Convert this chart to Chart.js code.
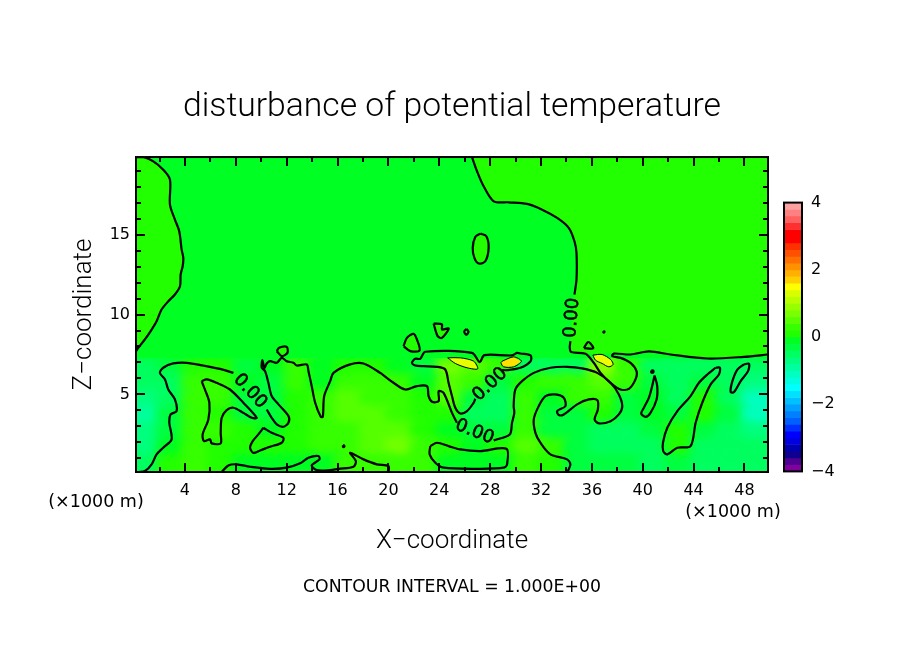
<!DOCTYPE html>
<html>
<head>
<meta charset="utf-8">
<title>disturbance of potential temperature</title>
<script src="https://cdn.jsdelivr.net/npm/chart.js@4"></script>
<style>
  html, body { margin: 0; padding: 0; background: #fff; }
  #wrap { position: relative; width: 904px; height: 654px; }
  #field { position: absolute; left: 0; top: 0; }
  #bar { position: absolute; left: 770px; top: 184px; }
</style>
</head>
<body>
<div id="wrap">
  <canvas id="field" width="904" height="654"></canvas>
  <canvas id="bar" width="70" height="306"></canvas>
</div>
<script>
// axes
const xRange = [0.15, 49.85];
const zRange = [0.15, 19.85];
const xMajor = [4, 8, 12, 16, 20, 24, 28, 32, 36, 40, 44, 48];
const xMinor = [2, 6, 10, 14, 18, 22, 26, 30, 34, 38, 42, 46];
const zMajor = [5, 10, 15];
const zMinor = [1, 2, 3, 4, 6, 7, 8, 9, 11, 12, 13, 14, 16, 17, 18, 19];
const barTicks = [-4, -2, 0, 2, 4];

// 40 colour levels of 0.2 from the colour bar, top (3.8..4) to bottom (-4..-3.8)
const levelColors = [
  '#ffa0a0', '#ff8080', '#ff6060', '#ff3030', '#ff0000', '#ff0000', '#ff3000', '#ff5000', '#ff7000', '#ff9000',
  '#ffb000', '#ffd000', '#ffff00', '#d8ff00', '#b8ff00', '#98ff00', '#78ff00', '#58ff00', '#38ff00', '#22ff00',
  '#00ff22', '#00ff40', '#00ff60', '#00ff80', '#00ffa0', '#00ffc0', '#00ffe0', '#00ffff', '#00e0ff', '#00c0ff',
  '#00a0ff', '#0080ff', '#0060ff', '#0030ff', '#0000ff', '#0000e0', '#0000b0', '#100090', '#500090', '#8000a0'
];

// field below the inversion
const fieldX = [1, 3, 5, 7, 9, 11, 13, 15, 17, 19, 21, 23, 25, 27, 29, 31, 33, 35, 37, 39, 41, 43, 45, 47, 49];
const fieldZ = [6.5, 5.5, 4.5, 3.5, 2.5, 1.5, 0.5];
const row65 = [-0.4, -0.3, 0.1, 0.1, -0.2, -0.1, 0.2, -0.1, 0.1, 0.1, -0.1, -0.2, 0.7, 0.6, 0.3, -0.4, -0.5, -0.4, 0.9, 0.2, -0.5, -0.6, -0.5, -0.5, -0.5];
const row55 = [-0.6, -0.4, 0.2, 0.3, -0.1, -0.2, 0.2, -0.1, 0.3, 0.4, 0.3, -0.1, 0.6, 0.2, -0.3, 0.1, 0.3, 0.3, 0.6, 0.2, -0.2, -0.5, -0.2, -0.4, -0.8];
const row45 = [-0.8, -0.5, 0.3, 0.2, -0.2, -0.3, 0.1, 0.2, 0.5, 0.4, 0.3, 0.1, 0.5, -0.2, -0.4, 0.2, -0.1, 0.3, 0.4, -0.3, 0, -0.4, 0.1, -0.4, -1.0];
const row35 = [-0.9, -0.3, 0.4, 0.1, -0.2, -0.2, 0.1, 0.2, 0.5, 0.6, 0.4, 0.1, 0.1, -0.4, -0.4, 0.3, -0.2, -0.2, 0.1, -0.3, 0, -0.3, 0.1, -0.3, -1.0];
const row25 = [-0.8, -0.2, 0.4, 0.2, 0.1, -0.1, 0.1, 0.3, 0.4, 0.6, 0.6, 0.1, -0.1, -0.2, -0.3, 0.4, -0.3, -0.3, -0.4, -0.4, -0.3, 0.1, -0.3, -0.5, -0.7];
const row15 = [-0.7, -0.1, 0.4, 0.1, 0.1, 0.1, 0.1, 0.2, 0.3, 0.5, 0.7, 0.3, 0.1, 0, 0.1, 0.5, 0.3, -0.2, -0.4, -0.4, -0.4, 0.1, -0.5, -0.6, -0.6];
const row05 = [-0.5, 0.1, 0.4, 0.1, 0, 0, 0, 0, 0.2, 0.3, 0.4, 0.2, 0, -0.1, 0, 0.4, 0.1, -0.2, -0.3, -0.3, -0.4, -0.3, -0.4, -0.5, -0.5];
const fieldRows = [row65, row55, row45, row35, row25, row15, row05];

// zero contours [x, z] in km
const leftTop = [[0.15, 19.85], [0.72, 19.85], [1.51, 19.58], [2.29, 19.06], [2.82, 18.44], [2.82, 16.88], [3.21, 15.94], [3.55, 15.21], [3.74, 14.06], [3.87, 13.54], [3.82, 13.02], [3.66, 12.5], [3.61, 11.77], [3.21, 11.25], [2.69, 10.83], [2.16, 10.31], [1.77, 9.58], [1.38, 9.06], [0.85, 8.44], [0.33, 7.92], [0.15, 7.71]];
const rightTop = [[26.57, 19.85], [26.97, 18.96], [27.49, 18.02], [28.28, 17.08], [29.46, 17.02], [30.9, 16.92], [32.09, 16.56], [33.27, 16.04], [34.18, 15.42], [34.63, 14.58], [34.79, 13.85], [34.79, 12.19], [34.63, 11.25]];
const plumeRight = [[34.31, 8.33], [34.26, 7.92], [34.37, 7.65], [35.5, 7.54], [36.15, 6.98], [36.68, 6.35], [37.46, 5.73], [38.25, 5.31], [38.91, 5.35], [39.43, 5.94], [39.51, 6.46], [39.04, 6.98], [38.25, 7.29], [37.6, 7.4], [37.73, 7.56], [39.04, 7.5], [40.48, 7.69], [42.19, 7.5], [45.07, 7.25], [47.96, 7.35], [49.85, 7.5]];
const plumeRightUpper = [[34.31, 8.33], [34.26, 7.92], [34.37, 7.65], [35.5, 7.54], [37.73, 7.56], [39.04, 7.5], [40.48, 7.69], [42.19, 7.5], [45.07, 7.25], [47.96, 7.35], [49.85, 7.5]];
const upperOval = [[27.23, 15.06], [27.7, 14.9], [27.88, 14.17], [27.62, 13.33], [27.1, 13.19], [26.76, 13.54], [26.63, 14.17], [26.83, 14.85], [27.23, 15.06]];
const blobA = [[21.19, 8.02], [21.45, 8.54], [21.98, 8.79], [22.24, 8.44], [22.45, 7.75], [21.72, 7.71], [21.19, 8.02]];
const blobB = [[23.55, 9.44], [24.21, 9.38], [24.21, 9.06], [24.74, 9.13], [24.21, 8.54], [23.87, 8.65], [23.55, 9.44]];
const blobC = [[11.22, 7.71], [11.4, 7.92], [12.0, 7.98], [12.06, 7.6], [11.61, 7.4], [11.22, 7.71]];
const triangle = [[35.37, 7.9], [35.68, 8.27], [35.89, 8.19], [36.1, 7.88], [35.37, 7.9]];
const leftLobe = [[7.81, 6.35], [6.76, 6.6], [5.44, 6.81], [4.13, 6.98], [3.08, 6.94], [2.29, 6.67], [2.03, 6.35], [2.43, 5.94], [2.69, 5.31], [3.21, 4.69], [3.34, 3.96], [2.87, 3.75], [2.77, 3.23], [2.95, 2.19], [2.29, 1.67], [1.77, 1.25], [1.38, 0.63], [0.85, 0.21], [0.33, 0.15]];
const hollow = [[5.31, 5.83], [5.71, 5.94], [6.49, 5.73], [7.54, 5.31], [8.59, 4.48], [9.64, 3.54], [9.25, 3.54], [8.59, 3.85], [7.81, 4.17], [7.28, 4.02], [6.89, 3.54], [6.81, 2.6], [6.81, 1.94], [6.1, 1.94], [5.97, 2.19], [5.5, 2.08], [5.39, 2.5], [5.84, 3.44], [5.92, 4.48], [5.57, 5.31], [5.31, 5.83]];
const wedge = [[10.17, 2.92], [10.82, 2.6], [11.74, 2.29], [11.61, 1.98], [10.69, 1.73], [9.91, 1.5], [9.38, 1.35], [9.12, 1.67], [9.33, 2.08], [9.77, 2.5], [10.17, 2.92]];
const bigLobe = [[10.43, 4.06], [10.82, 3.54], [11.22, 3.13], [11.74, 2.98], [12.14, 3.23], [12.14, 3.65], [11.35, 4.38], [10.82, 4.9], [10.56, 5.73], [10.3, 6.46], [10.04, 6.67], [10.09, 7.15], [10.25, 6.67], [10.43, 6.94], [10.69, 7.08], [11.22, 6.98], [11.61, 7.29], [12.0, 7.08], [12.53, 6.98], [12.79, 6.81], [13.58, 6.88], [13.71, 6.46], [13.97, 5.52], [14.24, 4.48], [14.68, 3.6], [14.84, 3.6], [14.95, 4.9], [15.42, 5.83], [15.68, 6.35], [16.99, 6.88], [18.04, 6.94], [19.35, 6.35], [20.4, 5.73], [21.32, 5.31], [22.24, 5.52], [23.03, 5.52], [23.16, 4.9], [23.43, 4.54], [23.95, 4.58], [23.95, 5.21], [24.34, 5.1], [25.0, 3.85], [25.39, 3.23]];
const plumeLeft = [[28.93, 6.52], [29.33, 6.52], [30.38, 6.67], [31.18, 7.08], [31.18, 7.44], [30.38, 7.56], [30.11, 7.6], [29.72, 7.44], [27.54, 7.46], [27.18, 7.02], [26.57, 7.6], [22.9, 7.67], [22.5, 7.23], [22.11, 7.23], [21.85, 6.98], [22.11, 6.81], [22.77, 6.77], [23.81, 6.73], [24.47, 6.56], [24.73, 5.73], [25.0, 4.9], [25.26, 4.17], [25.65, 3.81], [26.18, 3.96], [26.7, 4.48], [26.83, 4.73]];
const bottomEdge = [[6.89, 0.15], [7.41, 0.56], [8.07, 0.63], [9.12, 0.48], [10.69, 0.35], [12.0, 0.42], [13.06, 0.69], [13.71, 1.04], [14.5, 1.15], [14.58, 0.94], [13.97, 0.56], [14.37, 0.27], [15.42, 0.27], [16.07, 0.35], [17.25, 0.48], [17.44, 0.83], [16.99, 1.35], [18.04, 0.94], [19.09, 0.63], [20.01, 0.52], [20.01, 0.17]];
const bottomLoop = [[23.29, 1.77], [23.82, 1.98], [24.73, 1.77], [25.65, 1.56], [27.23, 1.46], [29.28, 1.6], [29.33, 0.63], [29.07, 0.42], [27.23, 0.35], [24.34, 0.42], [23.69, 0.73], [23.24, 1.25], [23.29, 1.77]];
const swirl = [[34.11, 0.21], [34.31, 0.63], [34.05, 0.94], [32.74, 1.25], [31.95, 1.98], [31.56, 2.6], [31.43, 3.44], [31.82, 4.27], [32.35, 4.9], [33.13, 5.0], [33.79, 4.79], [33.92, 4.27], [33.27, 3.96], [33.4, 3.71], [33.79, 3.75], [34.84, 4.38], [35.76, 4.69], [36.42, 4.65], [36.47, 4.06], [36.21, 3.44], [36.55, 3.19], [37.47, 3.33], [38.12, 3.75], [38.39, 4.27], [38.12, 5.0], [37.47, 5.73], [36.42, 6.35], [35.23, 6.63], [34.05, 6.73], [32.74, 6.67], [31.43, 6.35], [30.51, 5.83], [29.98, 5.31], [29.85, 4.27], [29.9, 3.85], [29.72, 3.23], [29.54, 2.5], [28.28, 2.13]];
const lensA = [[40.93, 6.19], [41.14, 5.52], [41.09, 4.69], [40.61, 3.85], [40.22, 3.6], [39.88, 3.81], [40.09, 4.17], [40.48, 4.79], [40.74, 5.52], [40.93, 6.19]];
const lensB = [[45.73, 6.67], [46.07, 6.67], [45.99, 6.25], [45.34, 5.63], [44.68, 4.48], [44.16, 3.23], [43.76, 1.77], [42.72, 1.67], [41.93, 1.25], [41.61, 1.46], [41.59, 1.98], [41.93, 2.92], [42.72, 3.96], [43.76, 4.9], [44.42, 5.73], [45.08, 6.25], [45.73, 6.67]];
const lensC = [[47.96, 6.88], [48.36, 6.92], [48.28, 6.46], [47.7, 5.83], [47.18, 5.15], [46.91, 5.15], [47.05, 5.83], [47.44, 6.56], [47.96, 6.88]];
const dotA = [[40.67, 6.5], [40.83, 6.5], [40.83, 6.38], [40.67, 6.38], [40.67, 6.5]];
const dotB = [[36.9, 8.95], [36.98, 8.95], [36.98, 8.89], [36.9, 8.89], [36.9, 8.95]];
const dotC = [[26.13, 9.1], [26.3, 8.92], [26.13, 8.74], [25.96, 8.92], [26.13, 9.1]];
const dotD = [[16.43, 1.82], [16.52, 1.82], [16.52, 1.72], [16.43, 1.72], [16.43, 1.82]];

// level 1 contours
const warmA = [[24.66, 7.29], [25.65, 7.29], [26.71, 7.08], [27.02, 6.6], [26.18, 6.67], [25.26, 6.94], [24.66, 7.29]];
const warmB = [[28.94, 7.08], [29.85, 7.35], [30.46, 7.08], [29.85, 6.73], [29.06, 6.73], [28.85, 6.98], [28.94, 7.08]];
const warmC = [[36.08, 7.46], [36.8, 7.5], [37.47, 7.19], [37.67, 6.88], [37.33, 6.73], [36.8, 6.94], [36.28, 7.15], [36.08, 7.46]];

// "0.00" contour labels: x, z, rotation in degrees
const labelX = [9.12, 28.0, 26.78, 34.45];
const labelZ = [5.2, 5.63, 2.65, 9.79];
const labelAngle = [47, -43, 22, -85];

const domainBox = [[xRange[0], zRange[1]], [xRange[1], zRange[1]], [xRange[1], zRange[0]], [xRange[0], zRange[0]]];
const rightCorners = [[49.85, 19.85]];
const leftCorner = [[0.15, 7.71], [0.15, 19.85]];

const FONT = '"DejaVu Sans"';
const THIN = 'Roboto';

function colorFor(v) {
    let i = Math.floor((4 - v) / 0.2);
    return levelColors[Math.max(0, Math.min(39, i))];
}
function toPts(list) { return list.map(p => ({ x: p[0], y: p[1] })); }

function contour(list, width) {
    return { data: toPts(list), showLine: true, fill: false, borderColor: '#000', borderWidth: width || 2.2,
        borderJoinStyle: 'round', pointRadius: 0, tension: 0.3, order: 1 };
}
function patch(list, color, order) {
    return { data: toPts(list), showLine: true, fill: 'shape', backgroundColor: color, borderWidth: 0,
        borderColor: 'transparent', pointRadius: 0, tension: 0, order: order };
}

// heat cells
const cellPts = [];
fieldRows.forEach((row, r) => row.forEach((v, c) => cellPts.push({ x: fieldX[c], y: fieldZ[r], v: v })));
const cellCache = {};
function cellStyle(ctx) {
    const pt = ctx.raw;
    if (!pt) return 'rect';
    const col = colorFor(pt.v);
    if (!cellCache[col]) {
        const c = document.createElement('canvas');
        c.width = 33;
        c.height = 24;
        const g = c.getContext('2d');
        g.fillStyle = col;
        g.fillRect(0, 0, c.width, c.height);
        cellCache[col] = c;
    }
    return cellCache[col];
}

const heatSet = { label: 'heat', data: cellPts, pointStyle: cellStyle, pointRadius: 8, showLine: false,
    clip: { left: 0, right: 0, bottom: 0, top: -201 }, order: 90 };

const fieldSets = [
    patch(domainBox.concat([domainBox[0]]), levelColors[20], 100),
    heatSet,
    patch(leftTop.concat(leftCorner), levelColors[19], 80),
    patch(rightTop.concat(plumeRightUpper, rightCorners), levelColors[19], 80),
    patch(upperOval, levelColors[19], 80),
    patch(blobA, levelColors[19], 80),
    patch(blobB, levelColors[19], 80),
    patch(blobC, levelColors[19], 80),
    patch(warmA, '#e8ff00', 70),
    patch(warmB, '#ffe000', 70),
    patch(warmC, '#eeff00', 70)
];
[leftTop, rightTop, plumeRight, upperOval, blobA, blobB, blobC, triangle, leftLobe, hollow, wedge, bigLobe, plumeLeft,
 bottomEdge, bottomLoop, swirl, lensA, lensB, lensC, dotA, dotB, dotC, dotD].forEach(c => fieldSets.push(contour(c)));
[warmA, warmB, warmC].forEach(c => fieldSets.push(contour(c, 1)));

const frame = {
    id: 'frame',
    afterDatasetsDraw(chart) {
        const { ctx, chartArea: a } = chart;
        ctx.save();
        ctx.strokeStyle = '#000';
        ctx.lineWidth = 2;
        ctx.strokeRect(a.left, a.top, a.right - a.left, a.bottom - a.top);
        ctx.restore();
    }
};

const insideTicks = {
    id: 'insideTicks',
    afterDatasetsDraw(chart) {
        const { ctx, chartArea: a, scales } = chart;
        ctx.save();
        ctx.strokeStyle = '#000';
        ctx.lineWidth = 2;
        const vert = (vals, len) => vals.forEach(v => {
            const px = Math.round(scales.x.getPixelForValue(v));
            ctx.beginPath();
            ctx.moveTo(px, a.top); ctx.lineTo(px, a.top + len);
            ctx.moveTo(px, a.bottom); ctx.lineTo(px, a.bottom - len);
            ctx.stroke();
        });
        const horiz = (vals, len) => vals.forEach(v => {
            const py = Math.round(scales.y.getPixelForValue(v));
            ctx.beginPath();
            ctx.moveTo(a.left, py); ctx.lineTo(a.left + len, py);
            ctx.moveTo(a.right, py); ctx.lineTo(a.right - len, py);
            ctx.stroke();
        });
        vert(xMajor, 9); vert(xMinor, 5);
        horiz(zMajor, 9); horiz(zMinor, 5);
        ctx.restore();
    }
};

const texts = {
    id: 'texts',
    afterDraw(chart) {
        const { ctx, scales } = chart;
        ctx.save();
        ctx.fillStyle = '#000';
        ctx.strokeStyle = '#000';
        ctx.textAlign = 'center';
        ctx.textBaseline = 'middle';
        // contour labels
        ctx.font = '18px ' + FONT;
        ctx.lineWidth = 0.6;
        labelX.forEach((x, i) => {
            ctx.save();
            ctx.translate(scales.x.getPixelForValue(x), scales.y.getPixelForValue(labelZ[i]));
            ctx.rotate(labelAngle[i] * Math.PI / 180);
            ctx.fillText('0.00', 0, 0);
            ctx.strokeText('0.00', 0, 0);
            ctx.restore();
        });
        ctx.font = '17.5px ' + FONT;
        ctx.fillText('(\u00d71000 m)', 96, 502);
        ctx.fillText('(\u00d71000 m)', 733, 512);
        ctx.font = '17.3px ' + FONT;
        ctx.fillText('CONTOUR INTERVAL = 1.000E+00', 452, 588);
        ctx.restore();
    }
};

const softCells = {
    id: 'softCells',
    beforeDatasetDraw(chart, args) {
        if (chart.data.datasets[args.index].label === 'heat') chart.ctx.filter = 'blur(5px)';
    },
    afterDatasetDraw(chart, args) {
        if (chart.data.datasets[args.index].label === 'heat') chart.ctx.filter = 'none';
    }
};

new Chart(document.getElementById('field'), {
    type: 'scatter',
    data: { datasets: fieldSets },
    plugins: [softCells, frame, insideTicks, texts],
    options: {
        responsive: false,
        animation: false,
        events: [],
        layout: { padding: { left: 0, right: 0, top: 0, bottom: 100 } },
        plugins: {
            legend: { display: false },
            tooltip: { enabled: false },
            title: {
                display: true,
                text: 'disturbance of potential temperature',
                color: '#000',
                font: { family: THIN, size: 33.7, weight: 300, lineHeight: 1.2 },
                padding: { top: 87, bottom: 29.6 }
            }
        },
        scales: {
            x: {
                type: 'linear',
                min: xRange[0], max: xRange[1],
                afterBuildTicks: s => { s.ticks = xMajor.map(v => ({ value: v })); },
                afterFit: s => { s.height = 82; },
                grid: { display: false, drawTicks: false },
                border: { display: false },
                ticks: { autoSkip: false, maxRotation: 0, padding: 9, color: '#000', font: { family: FONT, size: 16 }, callback: v => String(v) },
                title: { display: true, text: 'X\u2212coordinate', color: '#000', padding: 0, font: { family: THIN, size: 26, weight: 300, lineHeight: 1 } }
            },
            y: {
                type: 'linear',
                min: zRange[0], max: zRange[1],
                afterBuildTicks: s => { s.ticks = zMajor.map(v => ({ value: v })); },
                afterFit: s => { s.width = 136; },
                grid: { display: false, drawTicks: false },
                border: { display: false },
                ticks: { autoSkip: false, padding: 6, color: '#000', font: { family: FONT, size: 16 }, callback: v => String(v) },
                title: { display: true, text: 'Z\u2212coordinate', color: '#000', padding: { top: 71, bottom: 0 }, font: { family: THIN, size: 26, weight: 300, lineHeight: 1 } }
            },
            // empty margin on the right so the title centres on the page
            margin: {
                type: 'linear',
                position: 'right',
                afterFit: s => { s.width = 136; },
                grid: { display: false, drawTicks: false },
                border: { display: false },
                ticks: { display: false }
            }
        }
    }
});

// colour bar, one floating bar per level
const barSets = levelColors.map((col, i) => ({
    data: [[4 - (i + 1) * 0.2, 4 - i * 0.2]],
    backgroundColor: col,
    borderWidth: 0,
    grouped: false,
    barPercentage: 1,
    categoryPercentage: 1
}));

new Chart(document.getElementById('bar'), {
    type: 'bar',
    data: { labels: [''], datasets: barSets },
    plugins: [frame],
    options: {
        responsive: false,
        animation: false,
        events: [],
        layout: { padding: { left: 14, right: 0, top: 9, bottom: 18 } },
        plugins: { legend: { display: false }, tooltip: { enabled: false } },
        scales: {
            x: { display: false },
            y: {
                position: 'right',
                min: -4, max: 4,
                afterBuildTicks: s => { s.ticks = barTicks.map(v => ({ value: v })); },
                afterFit: s => { s.width = 38; },
                grid: { display: false, drawTicks: false },
                border: { display: false },
                ticks: { padding: 9, color: '#000', font: { family: FONT, size: 16 }, callback: v => String(v).replace('-', '\u2212') }
            }
        }
    }
});
</script>
</body>
</html>
